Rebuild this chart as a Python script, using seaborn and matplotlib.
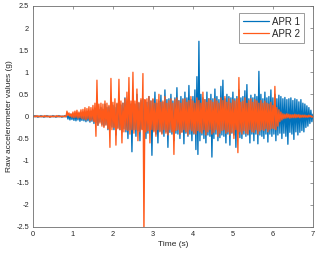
import numpy as np
import pandas as pd
import matplotlib
matplotlib.use("Agg")
import matplotlib.pyplot as plt
from matplotlib.lines import Line2D
from matplotlib.ticker import FormatStrFormatter, MultipleLocator
import seaborn as sns

# raw accelerometer traces, one sample every 25 ms
sample_period = 0.025

apr1 = [
    0.01, -0.01, 0.02, -0.01, 0.01, -0.02, 0.01, -0.01, 0.02, -0.01,
    0.01, -0.02, 0.01, -0.01, 0.02, -0.01, 0.01, -0.02, 0.01, -0.01,
    0.02, -0.01, 0.01, -0.02, 0.01, -0.01, 0.02, -0.01, 0.01, -0.02,
    0.01, -0.01, 0.02, -0.01, 0.03, -0.06, 0.04, -0.08, 0.05, -0.07,
    0.04, -0.09, 0.06, -0.10, 0.05, -0.08, 0.07, -0.11, 0.04, -0.09,
    0.08, -0.10, 0.06, -0.12, 0.09, -0.10, 0.07, -0.13, 0.10, -0.11,
    0.12, -0.16, 0.18, -0.14, 0.10, -0.20, 0.15, -0.12, 0.20, -0.18,
    0.16, -0.22, 0.28, -0.18, 0.20, -0.30, 0.22, -0.20, 0.35, -0.24,
    0.25, -0.30, 0.20, -0.42, 0.28, -0.25, 0.38, -0.30, 0.26, -0.35,
    0.30, -0.28, 0.42, -0.35, 0.25, -0.50, 0.32, -0.30, 0.28, -0.80,
    0.35, -0.30, 0.28, -0.45, 0.50, -0.32, 0.30, -0.55, 0.36, -0.28,
    0.40, -0.35, 0.30, -0.50, 0.32, -0.38, 0.45, -0.30, 0.35, -0.88,
    0.38, -0.32, 0.55, -0.40, 0.30, -0.60, 0.35, -0.33, 0.48, -0.38,
    0.32, -0.45, 0.60, -0.35, 0.38, -0.70, 0.40, -0.36, 0.50, -0.40,
    0.35, -0.55, 0.42, -0.38, 0.65, -0.40, 0.36, -0.50, 0.45, -0.35,
    0.40, -0.62, 0.55, -0.38, 0.42, -0.45, 0.70, -0.40, 0.38, -0.55,
    0.45, -0.40, 0.60, -0.75, 0.90, -0.86, 1.70, -0.55, 0.50, -0.42,
    0.42, -0.50, 0.38, -0.60, 0.55, -0.42, 0.40, -0.45, 0.50, -0.92,
    0.40, -0.50, 0.62, -0.40, 0.45, -0.55, 0.38, -0.48, 0.68, -0.42,
    0.82, -0.45, 0.40, -0.60, 0.50, -0.40, 0.45, -0.65, 0.42, -0.38,
    0.55, -0.42, 0.40, -0.70, 0.45, -0.40, 0.60, -0.48, 0.42, -0.50,
    0.45, -0.40, 0.58, -0.45, 0.72, -0.42, 0.40, -0.60, 0.48, -0.40,
    0.42, -0.55, 0.50, -0.40, 0.45, -0.62, 1.02, -0.42, 0.50, -0.45,
    0.40, -0.50, 0.55, -0.40, 0.42, -0.58, 0.45, -0.40, 0.60, -0.45,
    0.42, -0.40, 0.50, -0.55, 0.40, -0.42, 0.48, -0.38, 0.45, -0.50,
    0.40, -0.38, 0.43, -0.45, 0.38, -0.63, 0.40, -0.36, 0.42, -0.40,
    0.36, -0.52, 0.40, -0.35, 0.38, -0.42, 0.33, -0.36, 0.38, -0.32,
    0.30, -0.35, 0.28, -0.25, 0.24, -0.22, 0.20, -0.16, 0.14, -0.12,
    0.05,
]

apr2 = [
    0.01, -0.01, 0.01, -0.01, 0.02, -0.01, 0.01, -0.01, 0.01, -0.01,
    0.01, -0.01, 0.02, -0.01, 0.01, -0.01, 0.01, -0.02, 0.01, -0.01,
    0.01, -0.01, 0.01, -0.01, 0.02, -0.01, 0.01, -0.01, 0.01, -0.01,
    0.01, -0.01, 0.01, -0.01, 0.12, 0.02, 0.08, 0.00, 0.06, -0.02,
    0.10, -0.03, 0.12, -0.02, 0.14, -0.04, 0.10, -0.03, 0.15, -0.05,
    0.16, -0.06, 0.20, -0.08, 0.18, -0.05, 0.22, -0.10, 0.20, -0.08,
    0.25, -0.12, 0.30, -0.45, 0.82, -0.20, 0.28, -0.15, 0.30, -0.22,
    0.28, -0.25, 0.35, -0.20, 0.30, -0.28, 0.25, -0.70, 0.86, -0.30,
    0.32, -0.25, 0.40, -0.65, 0.30, -0.28, 0.84, -0.30, 0.35, -0.60,
    0.30, -0.35, 0.40, -0.30, 0.55, -0.32, 0.88, -0.40, 0.35, -0.30,
    1.00, -0.38, 0.35, -0.30, 0.62, -0.55, 0.32, -0.35, 0.40, -0.30,
    0.97, -2.70, 0.38, -0.35, 0.40, -0.32, 0.45, -0.60, 0.35, -0.30,
    0.40, -0.35, 0.30, -0.45, 0.38, -0.30, 0.50, -0.35, 0.32, -0.40,
    0.35, -0.30, 0.45, -0.38, 0.30, -0.42, 0.36, -0.30, 0.40, -0.35,
    0.30, -0.86, 0.38, -0.32, 0.42, -0.30, 0.35, -0.40, 0.30, -0.36,
    0.38, -0.30, 0.40, -0.35, 0.32, -0.42, 0.36, -0.30, 0.45, -0.33,
    0.35, -0.38, 0.30, -0.40, 0.42, -0.32, 0.36, -0.35, 0.30, -0.38,
    0.55, -0.30, 0.38, -0.42, 0.32, -0.35, 0.40, -0.30, 0.36, -0.40,
    0.32, -0.36, 0.40, -0.30, 0.35, -0.45, 0.30, -0.38, 0.42, -0.32,
    0.36, -0.30, 0.45, -0.38, 0.32, -0.35, 0.40, -0.42, 0.30, -0.36,
    0.38, -0.50, 0.35, -0.30, 0.40, -0.82, 0.88, -0.35, 0.32, -0.40,
    0.35, -0.32, 0.42, -0.38, 0.30, -0.40, 0.36, -0.30, 0.40, -0.35,
    0.32, -0.36, 0.38, -0.30, 0.35, -0.40, 0.30, -0.33, 0.36, -0.30,
    0.30, -0.32, 0.35, -0.28, 0.30, -0.35, 0.28, -0.30, 0.32, -0.27,
    0.25, -0.28, 0.68, -0.30, 0.20, -0.22, 0.15, -0.12, 0.10, -0.08,
    0.06, -0.05, 0.05, -0.04, 0.06, -0.03, 0.05, -0.04, 0.04, -0.03,
    0.04, -0.03, 0.05, -0.03, 0.04, -0.02, 0.04, -0.03, 0.03, -0.02,
    0.03, -0.02, 0.03, -0.02, 0.02, -0.02, 0.03, -0.01, 0.02, -0.02,
    0.00,
]

series_names = ["APR 1", "APR 2"]
series_colors = ["#0072BD", "#FF5A1A"]

x_ticks = [0, 1, 2, 3, 4, 5, 6, 7]


def build_frame():
    frames = []
    for name, vals in zip(series_names, [apr1, apr2]):
        t = np.arange(len(vals)) * sample_period
        frames.append(pd.DataFrame({"Time": t, "Value": vals, "Sensor": name}))
    return pd.concat(frames, ignore_index=True)


sns.set_style("white")
plt.rcParams["font.family"] = ["Liberation Sans", "DejaVu Sans"]
plt.rcParams["axes.unicode_minus"] = False

df = build_frame()

fig = plt.figure(figsize=(3.17, 2.57), dpi=100)
ax = fig.add_axes([0.104, 0.117, 0.883, 0.86])

sns.lineplot(data=df, x="Time", y="Value", hue="Sensor",
             palette=dict(zip(series_names, series_colors)),
             estimator=None, sort=False, linewidth=0.95, legend=False, ax=ax)

ax.set_xlim(0, 7)
ax.set_ylim(-2.5, 2.5)
ax.set_xticks(x_ticks)
ax.yaxis.set_major_locator(MultipleLocator(0.5))
ax.yaxis.set_major_formatter(FormatStrFormatter("%g"))

axis_col = "#262626"
for sp in ax.spines.values():
    sp.set_color("#6e6e6e")
    sp.set_linewidth(0.6)
ax.tick_params(direction="in", length=2.5, width=0.5, color="#6e6e6e",
               labelsize=5.3, labelcolor=axis_col, top=True, right=True,
               pad=3)

ax.set_xlabel("Time (s)", fontsize=6, color=axis_col, labelpad=2)
ax.set_ylabel("Raw accelerometer values (g)", fontsize=6, color=axis_col, labelpad=2)

# legend with thin coloured sample lines
handles = [Line2D([], [], color=c, linewidth=0.9) for c in series_colors]
leg = ax.legend(handles, series_names, loc="upper right",
                bbox_to_anchor=(0.968, 0.968), borderaxespad=0,
                fontsize=7, frameon=True, fancybox=False,
                handlelength=2.6, handletextpad=0.35, borderpad=0.4,
                labelspacing=0.2)
leg.get_frame().set_edgecolor("#6e6e6e")
leg.get_frame().set_linewidth(0.6)

fig.savefig("out.png", dpi=100)
